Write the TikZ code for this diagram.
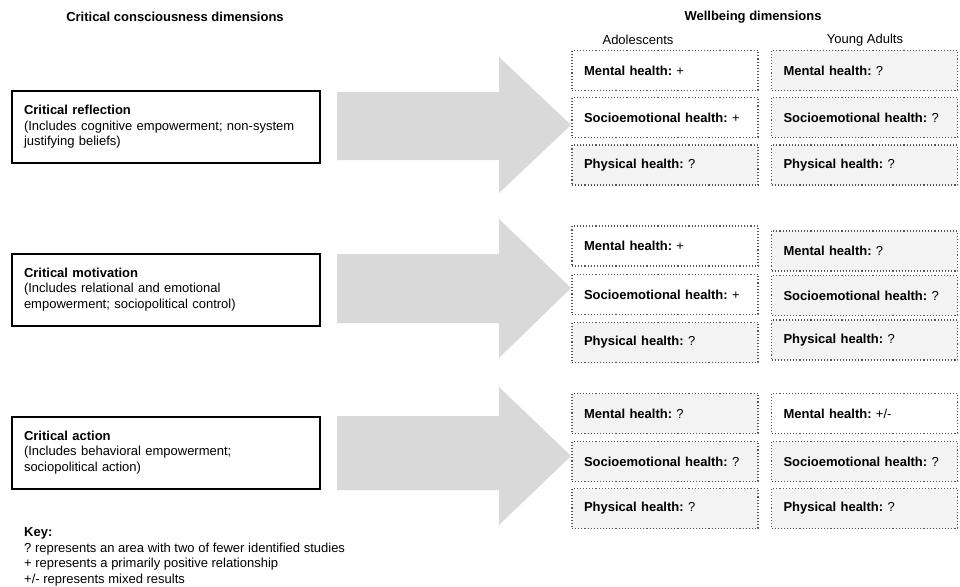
\documentclass[tikz,border=0pt]{standalone}
\usepackage{fontspec}
\setmainfont{Liberation Sans}
\definecolor{arrowgray}{RGB}{217,217,217}
\definecolor{boxgray}{RGB}{243,243,243}
\definecolor{dotgray}{RGB}{85,85,85}
\usetikzlibrary{positioning}
\frenchspacing

\tikzset{
  ccbox/.style={draw, line width=2pt, minimum width=308, minimum height=72,
    text width=284, inner xsep=12, align=left,
    font=\fontsize{13}{15.5}\selectfont},
  wbox/.style={draw=dotgray, line width=1.1pt, dash pattern=on 1.1pt off 2pt,
    fill=white, minimum height=40, text width=162, inner xsep=12,
    align=left, font=\fontsize{13}{15.5}\selectfont},
  wgray/.style={wbox, fill=boxgray},
  head/.style={font=\fontsize{13}{15.5}\selectfont\bfseries},
  sub/.style={font=\fontsize{13}{15.5}\selectfont},
}

\begin{document}
\begin{tikzpicture}[x=1pt, y=-1pt]
  \useasboundingbox (0,0) rectangle (960,586);

  % Titles
  \node[head] (cctitle) at (175,17) {Critical consciousness dimensions};
  \node[head] (wbtitle) at (753,17) {Wellbeing dimensions};
  \node[sub] (adol) at (638,40) {Adolescents};
  \node[sub] (young) at (865,40) {Young Adults};

  % Big arrows
  \fill[arrowgray] (337,92) -- (499,92) -- (499,57) -- (571,125) -- (499,193) -- (499,160) -- (337,160) -- cycle;
  \fill[arrowgray] (337,254) -- (499,254) -- (499,219) -- (571,288) -- (499,358) -- (499,323) -- (337,323) -- cycle;
  \fill[arrowgray] (337,416) -- (499,416) -- (499,387) -- (571,456) -- (499,525) -- (499,490) -- (337,490) -- cycle;

  % Critical consciousness boxes
  \node[ccbox] (refl) at (166,127) {\textbf{Critical reflection}\\(Includes cognitive empowerment; non-system\\justifying beliefs)};
  \node[ccbox] (motiv) at (166,289.5) {\textbf{Critical motivation}\\(Includes relational and emotional\\empowerment; sociopolitical control)};
  \node[ccbox] (action) at (166,452.5) {\textbf{Critical action}\\(Includes behavioral empowerment;\\sociopolitical action)};

  % Reflection
  \node[wbox] (aM1) at (665,70.5) {\textbf{Mental health:} +};
  \node[wbox] (aS1) at (665,117.5) {\textbf{Socioemotional health:} +};
  \node[wgray] (aP1) at (665,165) {\textbf{Physical health:} ?};
  \node[wgray] (yM1) at (864.5,70.5) {\textbf{Mental health:} ?};
  \node[wgray] (yS1) at (864.5,117.5) {\textbf{Socioemotional health:} ?};
  \node[wgray] (yP1) at (864.5,165) {\textbf{Physical health:} ?};

  % Motivation
  \node[wbox] (aM2) at (665,246) {\textbf{Mental health:} +};
  \node[wbox] (aS2) at (665,294.5) {\textbf{Socioemotional health:} +};
  \node[wgray] (aP2) at (665,342.5) {\textbf{Physical health:} ?};
  \node[wgray] (yM2) at (864.5,251) {\textbf{Mental health:} ?};
  \node[wgray] (yS2) at (864.5,295.5) {\textbf{Socioemotional health:} ?};
  \node[wgray] (yP2) at (864.5,340) {\textbf{Physical health:} ?};

  % Action
  \node[wgray] (aM3) at (665,413.5) {\textbf{Mental health:} ?};
  \node[wgray] (aS3) at (665,461.5) {\textbf{Socioemotional health:} ?};
  \node[wgray] (aP3) at (665,508.5) {\textbf{Physical health:} ?};
  \node[wbox] (yM3) at (864.5,413.5) {\textbf{Mental health:} +/-};
  \node[wgray] (yS3) at (864.5,461.5) {\textbf{Socioemotional health:} ?};
  \node[wgray] (yP3) at (864.5,508.5) {\textbf{Physical health:} ?};

  % Key
  \node[sub, anchor=north west, align=left, inner sep=0] (key) at (24,527.5)
    {\textbf{Key:}\\? represents an area with two of fewer identified studies\\+ represents a primarily positive relationship\\+/- represents mixed results};
\end{tikzpicture}
\end{document}
